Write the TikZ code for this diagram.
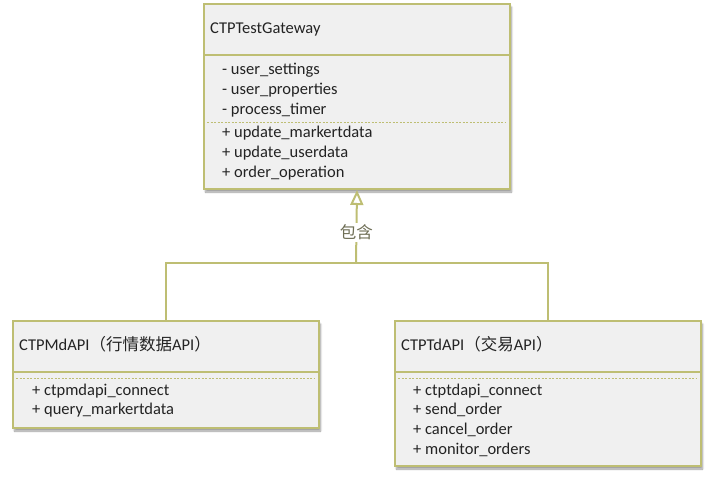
\documentclass[tikz,border=0pt]{standalone}
\usepackage{fontspec}
\setmainfont{Carlito}
\newfontfamily\cjk{Noto Sans CJK SC}
\usetikzlibrary{arrows.meta,shadows.blur}

\definecolor{umlline}{RGB}{190,190,115}
\definecolor{umlfill}{RGB}{240,240,240}
\definecolor{umltext}{RGB}{35,35,35}
\definecolor{umllabel}{RGB}{110,110,85}

\tikzset{
  classbox/.style={draw=umlline, fill=umlfill, line width=2pt, anchor=north west, inner sep=0pt,
    blur shadow={shadow xshift=1.5pt, shadow yshift=-3pt, shadow blur steps=6, shadow opacity=40}},
  divider/.style={umlline, line width=1.6pt},
  dotline/.style={umlline, line width=0.8pt, dash pattern=on 2pt off 1.5pt},
  title/.style={anchor=west, text=umltext, inner sep=0pt, font=\fontsize{16.5}{20}\selectfont},
  member/.style={title},
  link/.style={draw=umlline, line width=2pt}
}

\begin{document}
\begin{tikzpicture}[x=1pt,y=-1pt]
  \useasboundingbox (0,0) rectangle (712,484);

  % gateway class
  \node[classbox, minimum width=306pt, minimum height=185pt] (gateway) at (203,3) {};
  \draw[divider] (203,55) -- (509,55);
  \draw[dotline] (207,122) -- (505,122);
  \node[title] (gateway-name) at (210,29) {CTPTestGateway};
  \foreach \y/\txt [count=\i] in {70/- user\_settings, 90/- user\_properties, 110/- process\_timer} {
    \node[member] (gateway-attr\i) at (222,\y) {\txt};
  }
  \foreach \y/\txt [count=\i] in {133/+ update\_markertdata, 153/+ update\_userdata, 173/+ order\_operation} {
    \node[member] (gateway-op\i) at (222,\y) {\txt};
  }

  % market data api
  \node[classbox, minimum width=306pt, minimum height=107pt] (mdapi) at (12,320) {};
  \draw[divider] (12,372) -- (318,372);
  \draw[dotline] (16,378) -- (314,378);
  \node[title] (mdapi-name) at (19,344) {CTPMdAPI{\cjk （行情数据}API{\cjk ）}};
  \foreach \y/\txt [count=\i] in {391/+ ctpmdapi\_connect, 410/+ query\_markertdata} {
    \node[member] (mdapi-op\i) at (32,\y) {\txt};
  }

  % trade api
  \node[classbox, minimum width=306pt, minimum height=145pt] (tdapi) at (394,320) {};
  \draw[divider] (394,372) -- (700,372);
  \draw[dotline] (398,378) -- (696,378);
  \node[title] (tdapi-name) at (401,344) {CTPTdAPI{\cjk （交易}API{\cjk ）}};
  \foreach \y/\txt [count=\i] in {391/+ ctptdapi\_connect, 410/+ send\_order, 430/+ cancel\_order, 450/+ monitor\_orders} {
    \node[member] (tdapi-op\i) at (413,\y) {\txt};
  }

  % relation
  \coordinate (fork) at (356,263);
  \draw[link] (mdapi.north) |- (fork) -| (tdapi.north);
  \draw[link, -{Triangle[open, length=15pt, width=13pt, fill=white]}] (fork) --
    node[pos=0.42, fill=white, text=umllabel, inner sep=2pt, font=\fontsize{16.5}{20}\cjk] (contains) {包含} (gateway.south);
\end{tikzpicture}
\end{document}
